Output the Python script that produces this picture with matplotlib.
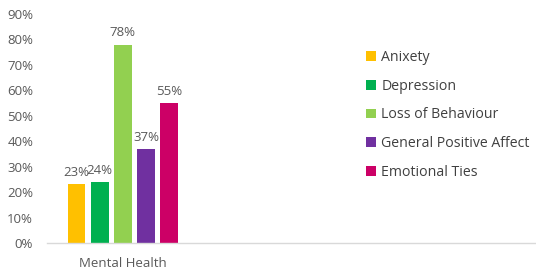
import matplotlib
matplotlib.use("Agg")
import matplotlib.pyplot as plt
from matplotlib.patches import Patch
import numpy as np

categories = ["Mental Health"]
series = ["Anixety", "Depression", "Loss of Behaviour", "General Positive Affect", "Emotional Ties"]
values = [0.23, 0.24, 0.78, 0.37, 0.55]
colors = ["#FFC000", "#00B050", "#92D050", "#7030A0", "#CC0066"]
yticks = np.arange(0, 0.91, 0.1)

plt.rcParams['font.family'] = ['Open Sans', 'DejaVu Sans']

fig = plt.figure(figsize=(5.36, 2.70), dpi=100)
ax = fig.add_axes([47/536, 1-243/270, 1-47/536, (243-14)/270])

spacing = 0.153
width = 0.118
n = len(series)
for i, (s, v, c) in enumerate(zip(series, values, colors)):
    x = 0 + (i - (n - 1) / 2) * spacing
    ax.bar(x, v, width=width, color=c, label=s)
    ax.text(x, v + 0.02, f"{round(v*100):.0f}%", ha='center', va='bottom',
            fontsize=9.5, color='#595959')

ax.set_xlim(-0.5, 2.72)
ax.set_ylim(0, 0.9)
ax.set_yticks(yticks)
ax.set_yticklabels([f"{round(t*100):.0f}%" for t in yticks], fontsize=9.5, color='#595959')
ax.set_xticks([0])
ax.set_xticklabels(categories, fontsize=9.5, color='#595959')
ax.tick_params(axis='both', length=0)
ax.tick_params(axis='y', pad=10)
ax.tick_params(axis='x', pad=10)
for sp in ['top', 'right', 'left']:
    ax.spines[sp].set_visible(False)
ax.spines['bottom'].set_color('#D9D9D9')
ax.spines['bottom'].set_linewidth(1)

handles = [Patch(facecolor=c, edgecolor='none') for c in colors]
leg = fig.legend(handles, series, loc='upper left', bbox_to_anchor=(360/536, 1-44/270),
                 frameon=False, fontsize=10.2, handlelength=0.7, handleheight=0.7,
                 handletextpad=0.4, labelspacing=0.98, borderaxespad=0)
for t in leg.get_texts():
    t.set_color('#404040')

fig.savefig("out.png", dpi=100)
